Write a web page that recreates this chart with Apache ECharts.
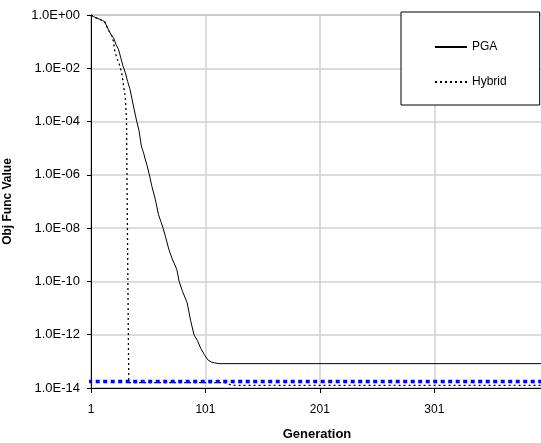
<!DOCTYPE html>
<html>
<head>
<meta charset="UTF-8" />
<title>Obj Func Value by Generation</title>
<script src="https://cdn.jsdelivr.net/npm/echarts@6/dist/echarts.min.js"></script>
</head>
<body style="margin:0;padding:0;background:#fff;">
<div id="chart" style="width:541px;height:443px;"></div>
<script>
// generation ticks on the x axis
const genTicks = [1, 101, 201, 301];

// PGA: [generation, objective value]
const pgaData = [
	[1, 1.0], [3, 0.88], [5, 0.8], [7, 0.74], [9, 0.68], [11, 0.62], [13, 0.56],
	[15, 0.36], [17, 0.24], [19, 0.17], [21, 0.13], [23, 0.075], [25, 0.052],
	[27, 0.025], [29, 0.012], [31, 0.0068], [33, 0.0032], [35, 0.0017],
	[37, 6.5e-4], [39, 2.5e-4], [41, 1.0e-4], [43, 4.5e-5], [45, 1.2e-5],
	[47, 6.5e-6], [50, 2.2e-6], [52, 1.0e-6], [54, 4e-7], [57, 1.3e-7],
	[60, 3.2e-8], [62, 1.8e-8], [64, 1.0e-8], [66, 5e-9], [69, 1.6e-9],
	[72, 7e-10], [76, 2.8e-10], [78, 1.0e-10], [81, 4.2e-11], [85, 1.6e-11],
	[88, 3.5e-12], [91, 1.0e-12], [94, 6e-13], [97, 3e-13], [100, 1.8e-13],
	[103, 1.15e-13], [106, 9.5e-14], [109, 8.8e-14], [113, 8.2e-14], [396, 8.2e-14]
];

// Hybrid: [generation, objective value]
const hybridData = [
	[1, 1.0], [3, 0.88], [5, 0.8], [7, 0.74], [9, 0.68], [11, 0.62], [13, 0.56],
	[15, 0.36], [17, 0.24], [19, 0.17], [20, 0.14], [22, 0.04], [24, 0.022],
	[26, 0.013], [28, 0.006], [29, 0.003], [31, 8e-4], [32, 1.3e-4],
	[34, 1.6e-14], [118, 1.6e-14], [124, 1.25e-14], [396, 1.25e-14]
];

// blue dotted reference level
const levelData = [[-8, 1.75e-14], [396, 1.75e-14]];

const font = "Liberation Sans";

function sciLabel(v) {
	const e = Math.round(Math.log10(v));
	const a = Math.abs(e);
	return "1.0E" + (e < 0 ? "-" : "+") + (a < 10 ? "0" + a : a);
}

const chart = echarts.init(document.getElementById("chart"));
chart.setOption({
	animation: false,
	textStyle: { fontFamily: font },
	grid: {
		left: 91, top: 15, right: -2, bottom: 55,
		containLabel: false,
		outerBoundsMode: "none",
		show: true, borderColor: "#808080", borderWidth: 1
	},
	legend: {
		data: ["PGA", "Hybrid"],
		orient: "vertical",
		left: 401, top: 12,
		padding: [29, 33, 17, 33],
		itemWidth: 32, itemHeight: 14, itemGap: 23,
		backgroundColor: "#fff",
		borderColor: "#000", borderWidth: 1,
		itemStyle: { color: "rgba(0,0,0,0)", borderWidth: 0 },
		textStyle: { fontFamily: font, fontSize: 12, color: "#000" }
	},
	xAxis: {
		type: "value",
		min: 1, max: 396,
		name: "Generation",
		nameLocation: "middle",
		nameGap: 40,
		nameTextStyle: { fontFamily: font, fontSize: 13, fontWeight: "bold", color: "#000" },
		axisLine: { lineStyle: { color: "#000", width: 1 } },
		axisTick: { show: true, length: 5, customValues: genTicks, lineStyle: { color: "#000" } },
		axisLabel: { customValues: genTicks, margin: 16, fontSize: 12, color: "#000", fontFamily: font },
		splitLine: { show: true, lineStyle: { color: "#d0d0d0", width: 1.5 } }
	},
	yAxis: {
		type: "log",
		logBase: 10,
		min: 1e-14, max: 1,
		interval: 2,
		name: "Obj Func Value",
		nameLocation: "middle",
		nameGap: 77,
		nameTextStyle: { fontFamily: font, fontSize: 12, fontWeight: "bold", color: "#000" },
		axisLine: { show: true, lineStyle: { color: "#000", width: 1 } },
		axisTick: { show: true, length: 4, lineStyle: { color: "#000" } },
		axisLabel: { formatter: sciLabel, margin: 11, fontSize: 13, color: "#000", fontFamily: font },
		minorTick: { show: false },
		splitLine: { show: true, lineStyle: { color: "#d0d0d0", width: 1.5 } }
	},
	series: [
		{
			name: "Hybrid",
			type: "line",
			data: hybridData,
			showSymbol: false, symbol: "none",
			lineStyle: { color: "#000", width: 1.3, type: [2, 3] },
			itemStyle: { color: "rgba(0,0,0,0)" },
			z: 2
		},
		{
			name: "PGA",
			type: "line",
			data: pgaData,
			showSymbol: false, symbol: "none",
			lineStyle: { color: "#000", width: 1 },
			itemStyle: { color: "rgba(0,0,0,0)" },
			z: 3
		},
		{
			name: "level",
			type: "line",
			data: levelData,
			clip: false,
			showSymbol: false, symbol: "none",
			lineStyle: { color: "#0000ff", width: 3.5, type: [4, 3.5] },
			z: 4
		}
	]
});
</script>
</body>
</html>
